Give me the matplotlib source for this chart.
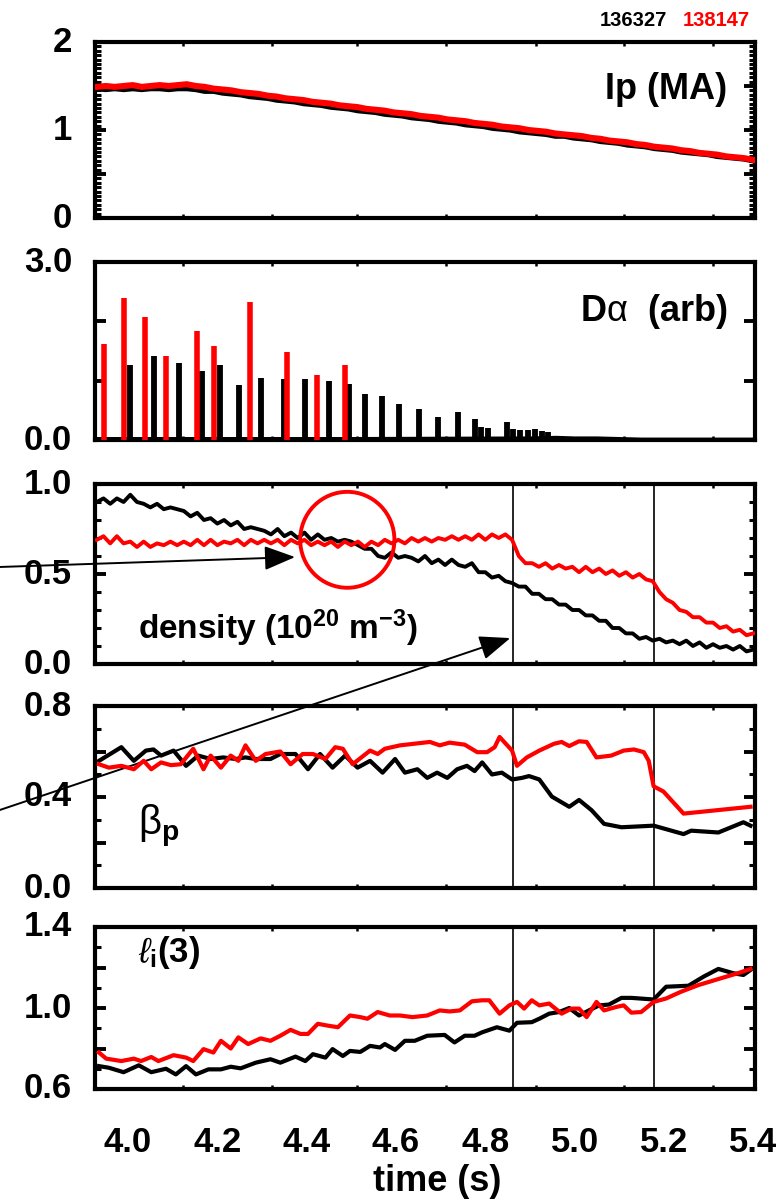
import numpy as np
import matplotlib
matplotlib.use("Agg")
import matplotlib.pyplot as plt
from matplotlib.patches import Ellipse
from matplotlib.ticker import MultipleLocator, FixedLocator, NullFormatter

plt.rcParams['font.family'] = ['Liberation Sans', 'DejaVu Sans']
plt.rcParams['font.weight'] = 'normal'
plt.rcParams['mathtext.fontset'] = 'custom'
plt.rcParams['mathtext.rm'] = 'Liberation Sans'
plt.rcParams['mathtext.it'] = 'Liberation Sans:italic'
plt.rcParams['mathtext.bf'] = 'Liberation Sans:bold'

# ---------------- data ----------------
shots = ["136327", "138147"]
x_ticklabels = ["4.0", "4.2", "4.4", "4.6", "4.8", "5.0", "5.2", "5.4"]
x_tickvals = [4.0, 4.2, 4.4, 4.6, 4.8, 5.0, 5.2, 5.4]
x_minor_ticks = [4.123, 4.323, 4.513, 4.713, 4.913, 5.11, 5.309]
events = [4.861, 5.177]

# Ip (MA)
t_ip = np.linspace(3.93, 5.40, 74)
ip_red = [1.49, 1.50, 1.49, 1.50, 1.51, 1.49, 1.50, 1.51, 1.50, 1.51, 1.52,
          1.50, 1.49, 1.47, 1.46, 1.45, 1.43, 1.42, 1.41, 1.39, 1.38,
          1.36, 1.35, 1.34, 1.32, 1.31, 1.30, 1.28, 1.27, 1.26, 1.24,
          1.23, 1.22, 1.20, 1.19, 1.18, 1.16, 1.15, 1.14, 1.12, 1.11,
          1.10, 1.08, 1.07, 1.06, 1.04, 1.03, 1.02, 1.00, 0.99, 0.98,
          0.96, 0.95, 0.94, 0.93, 0.91, 0.90, 0.88, 0.87, 0.86, 0.84,
          0.83, 0.81, 0.80, 0.79, 0.77, 0.76, 0.74, 0.73, 0.72, 0.70,
          0.69, 0.68, 0.66]
ip_black = [1.47, 1.46, 1.47, 1.46, 1.47, 1.46, 1.47, 1.47, 1.46, 1.47, 1.47,
            1.46, 1.44, 1.44, 1.42, 1.41, 1.40, 1.38, 1.37, 1.36, 1.34,
            1.33, 1.32, 1.30, 1.29, 1.28, 1.26, 1.25, 1.24, 1.22, 1.21,
            1.20, 1.18, 1.17, 1.16, 1.14, 1.13, 1.12, 1.10, 1.09, 1.08,
            1.06, 1.05, 1.04, 1.02, 1.01, 1.00, 0.98, 0.97, 0.96, 0.95,
            0.93, 0.93, 0.91, 0.90, 0.89, 0.87, 0.86, 0.85, 0.83, 0.82,
            0.81, 0.79, 0.78, 0.77, 0.75, 0.74, 0.73, 0.72, 0.70, 0.69,
            0.68, 0.67, 0.65]

# D-alpha spikes (time, height)
da_red_t = [3.946, 3.990, 4.037, 4.085, 4.154, 4.193, 4.272, 4.355, 4.423, 4.486]
da_red_h = [1.62, 2.39, 2.08, 1.42, 1.84, 1.58, 2.33, 1.49, 1.10, 1.27]
da_blk_t = [4.005, 4.059, 4.115, 4.166, 4.207, 4.249, 4.297, 4.349, 4.397, 4.449,
            4.495, 4.531, 4.568, 4.607, 4.651, 4.695, 4.739, 4.778, 4.790, 4.806,
            4.848, 4.863, 4.878, 4.896, 4.911, 4.926, 4.940]
da_blk_h = [1.26, 1.42, 1.30, 1.17, 1.26, 0.92, 1.05, 1.03, 1.03, 1.00,
            0.94, 0.78, 0.75, 0.61, 0.53, 0.38, 0.47, 0.35, 0.22, 0.21,
            0.30, 0.18, 0.17, 0.17, 0.18, 0.15, 0.13]
da_blk_base_t = [3.93, 4.50, 4.90, 4.96, 5.00, 5.05, 5.10, 5.15, 5.40]
da_blk_base_v = [0.02, 0.02, 0.03, 0.04, 0.03, 0.03, 0.02, 0.01, 0.01]
da_red_base_t = [3.93, 4.10, 4.12, 4.25, 4.30, 4.36, 4.42, 4.48, 4.55, 4.60]
da_red_base_v = [0.00, 0.00, -0.04, -0.03, 0.00, -0.06, -0.05, -0.06, -0.07, -0.06]

# density (1e20 m^-3)
t_ne = np.linspace(3.93, 5.40, 99)
ne_black = [0.90, 0.92, 0.89, 0.92, 0.90, 0.94, 0.90, 0.89, 0.87, 0.89,
            0.86, 0.87, 0.86, 0.85, 0.82, 0.84, 0.80, 0.81, 0.78, 0.80,
            0.77, 0.79, 0.75, 0.76, 0.75, 0.74, 0.72, 0.75, 0.71, 0.73,
            0.70, 0.73, 0.69, 0.72, 0.69, 0.70, 0.68, 0.69, 0.68, 0.66,
            0.64, 0.64, 0.60, 0.59, 0.62, 0.59, 0.60, 0.59, 0.57, 0.60,
            0.56, 0.58, 0.55, 0.58, 0.55, 0.54, 0.56, 0.51, 0.51, 0.48,
            0.49, 0.46, 0.45, 0.43, 0.43, 0.39, 0.39, 0.36, 0.36, 0.33,
            0.33, 0.30, 0.30, 0.27, 0.27, 0.24, 0.24, 0.20, 0.20, 0.17,
            0.17, 0.14, 0.15, 0.13, 0.14, 0.12, 0.13, 0.11, 0.13, 0.10,
            0.12, 0.09, 0.11, 0.09, 0.10, 0.08, 0.10, 0.07, 0.08]
ne_red = [0.69, 0.71, 0.67, 0.71, 0.67, 0.68, 0.65, 0.68, 0.65, 0.67,
          0.66, 0.68, 0.66, 0.68, 0.66, 0.69, 0.66, 0.69, 0.66, 0.68,
          0.67, 0.69, 0.66, 0.69, 0.67, 0.69, 0.67, 0.69, 0.66, 0.69,
          0.67, 0.69, 0.66, 0.68, 0.66, 0.68, 0.65, 0.68, 0.66, 0.68,
          0.65, 0.68, 0.66, 0.69, 0.67, 0.69, 0.67, 0.70, 0.68, 0.70,
          0.68, 0.70, 0.69, 0.71, 0.69, 0.71, 0.69, 0.72, 0.69, 0.72,
          0.70, 0.72, 0.69, 0.60, 0.56, 0.56, 0.54, 0.56, 0.53, 0.55,
          0.53, 0.54, 0.51, 0.54, 0.51, 0.53, 0.50, 0.52, 0.49, 0.51,
          0.48, 0.50, 0.47, 0.46, 0.40, 0.36, 0.34, 0.30, 0.29, 0.26,
          0.26, 0.23, 0.23, 0.20, 0.21, 0.18, 0.19, 0.16, 0.17]

# beta_p
t_bp_black = [3.935, 3.985, 4.013, 4.040, 4.057, 4.074, 4.102, 4.130, 4.157, 4.185,
              4.213, 4.241, 4.263, 4.286, 4.319, 4.341, 4.375, 4.403, 4.430, 4.458,
              4.486, 4.514, 4.542, 4.570, 4.598, 4.620, 4.648, 4.670, 4.692, 4.715,
              4.737, 4.759, 4.776, 4.793, 4.815, 4.837, 4.860, 4.882, 4.898, 4.921,
              4.949, 4.988, 5.010, 5.038, 5.066, 5.105, 5.177, 5.244, 5.261, 5.322,
              5.378, 5.394]
bp_black = [0.559, 0.619, 0.559, 0.604, 0.609, 0.582, 0.604, 0.537, 0.582, 0.567,
            0.574, 0.567, 0.574, 0.567, 0.567, 0.589, 0.589, 0.522, 0.589, 0.529,
            0.582, 0.529, 0.559, 0.507, 0.567, 0.507, 0.522, 0.484, 0.507, 0.484,
            0.522, 0.537, 0.514, 0.552, 0.499, 0.507, 0.477, 0.484, 0.492, 0.477,
            0.402, 0.357, 0.387, 0.342, 0.282, 0.267, 0.274, 0.237, 0.252, 0.244,
            0.289, 0.274]
t_bp_red = [3.935, 3.957, 3.985, 4.013, 4.035, 4.052, 4.074, 4.096, 4.118, 4.146,
            4.169, 4.185, 4.208, 4.230, 4.247, 4.263, 4.286, 4.308, 4.341, 4.364,
            4.391, 4.414, 4.442, 4.464, 4.481, 4.503, 4.542, 4.559, 4.575, 4.609,
            4.676, 4.698, 4.720, 4.754, 4.782, 4.804, 4.821, 4.832, 4.860, 4.871,
            4.893, 4.921, 4.954, 4.971, 4.988, 5.010, 5.027, 5.049, 5.082, 5.110,
            5.133, 5.155, 5.166, 5.177, 5.199, 5.244, 5.394]
bp_red = [0.544, 0.529, 0.537, 0.522, 0.559, 0.522, 0.552, 0.540, 0.544, 0.612,
          0.522, 0.582, 0.529, 0.582, 0.559, 0.627, 0.559, 0.589, 0.600, 0.544,
          0.589, 0.589, 0.567, 0.619, 0.612, 0.544, 0.604, 0.589, 0.612, 0.627,
          0.642, 0.627, 0.639, 0.630, 0.597, 0.597, 0.619, 0.664, 0.604, 0.537,
          0.574, 0.604, 0.634, 0.642, 0.624, 0.645, 0.642, 0.574, 0.582, 0.604,
          0.609, 0.597, 0.559, 0.447, 0.424, 0.327, 0.357]

# l_i(3)
t_li_black = [3.935, 3.957, 3.990, 4.024, 4.052, 4.085, 4.107, 4.130, 4.152, 4.180,
              4.208, 4.230, 4.252, 4.286, 4.319, 4.341, 4.375, 4.397, 4.414, 4.442,
              4.458, 4.481, 4.497, 4.520, 4.542, 4.564, 4.575, 4.598, 4.620, 4.642,
              4.670, 4.709, 4.731, 4.754, 4.776, 4.793, 4.826, 4.854, 4.871, 4.904,
              4.921, 4.943, 4.965, 4.988, 5.010, 5.032, 5.055, 5.077, 5.105, 5.127,
              5.177, 5.205, 5.255, 5.289, 5.322, 5.355, 5.378, 5.394]
li_black = [0.713, 0.705, 0.683, 0.717, 0.683, 0.700, 0.672, 0.713, 0.672, 0.697,
            0.697, 0.710, 0.702, 0.730, 0.747, 0.730, 0.760, 0.738, 0.772, 0.755,
            0.797, 0.763, 0.788, 0.783, 0.813, 0.805, 0.822, 0.793, 0.838, 0.838,
            0.863, 0.867, 0.830, 0.863, 0.863, 0.880, 0.905, 0.888, 0.927, 0.930,
            0.947, 0.972, 0.980, 1.000, 0.963, 0.988, 1.013, 1.017, 1.050, 1.050,
            1.042, 1.105, 1.110, 1.155, 1.193, 1.172, 1.163, 1.188]
t_li_red = [3.935, 3.951, 3.985, 4.013, 4.029, 4.052, 4.068, 4.102, 4.130, 4.146,
            4.169, 4.191, 4.208, 4.230, 4.247, 4.269, 4.297, 4.319, 4.341, 4.364,
            4.386, 4.403, 4.425, 4.447, 4.470, 4.497, 4.520, 4.536, 4.559, 4.586,
            4.609, 4.637, 4.670, 4.698, 4.720, 4.743, 4.770, 4.793, 4.809, 4.832,
            4.854, 4.871, 4.887, 4.904, 4.921, 4.943, 4.971, 4.993, 5.010, 5.027,
            5.049, 5.066, 5.093, 5.110, 5.127, 5.149, 5.177, 5.205, 5.238, 5.277,
            5.322, 5.366, 5.394]
li_red = [0.780, 0.750, 0.738, 0.750, 0.738, 0.758, 0.738, 0.767, 0.755, 0.738,
          0.797, 0.780, 0.838, 0.800, 0.855, 0.822, 0.850, 0.838, 0.863, 0.892,
          0.872, 0.872, 0.922, 0.913, 0.905, 0.963, 0.955, 0.947, 0.980, 0.963,
          0.963, 0.955, 0.963, 0.988, 0.983, 0.988, 1.033, 1.038, 1.038, 0.972,
          1.013, 1.030, 0.997, 1.038, 1.013, 1.022, 0.972, 0.997, 0.997, 0.955,
          1.030, 0.988, 1.005, 1.013, 0.977, 0.980, 1.030, 1.047, 1.080, 1.113,
          1.143, 1.172, 1.193]

# ---------------- layout ----------------
W, H = 783, 1201
fig = plt.figure(figsize=(W / 100, H / 100), dpi=100)
left_px, right_px = 95, 755
panels_px = [(42, 218), (262, 440), (484, 664), (706, 888), (927, 1089)]
axes = []
for top, bot in panels_px:
    ax = fig.add_axes([left_px / W, 1 - bot / H, (right_px - left_px) / W, (bot - top) / H])
    ax.set_facecolor('none')
    axes.append(ax)

RED = '#ff0000'
XLIM = (3.926, 5.404)
tick_fs = 25

ylims = [(0, 2), (0, 3), (0, 1), (0, 0.8), (0.6, 1.4)]
ylabels_vals = [[0, 1, 2], [0.0, 3.0], [0.0, 0.5, 1.0], [0.0, 0.4, 0.8], [0.6, 1.0, 1.4]]
ylabels_txt = [["0", "1", "2"], ["0.0", "3.0"], ["0.0", "0.5", "1.0"],
               ["0.0", "0.4", "0.8"], ["0.6", "1.0", "1.4"]]
ymajor = [[0.5, 1.0, 1.5], [1.0, 2.0], [0.5], [0.2, 0.4, 0.6], [0.8, 1.0, 1.2]]
yminor = [0.05, None, 0.1, 0.1, 0.1]

for i, ax in enumerate(axes):
    ax.set_xlim(*XLIM)
    ax.set_ylim(*ylims[i])
    for s in ax.spines.values():
        s.set_linewidth(3.0)
    ax.yaxis.set_major_locator(FixedLocator(ymajor[i]))
    ax.yaxis.set_major_formatter(NullFormatter())
    if yminor[i] is not None:
        ax.yaxis.set_minor_locator(MultipleLocator(yminor[i]))
    else:
        ax.yaxis.set_minor_locator(FixedLocator([]))
    ax.tick_params(axis='y', which='major', direction='in', length=8, width=2.8,
                   left=True, right=True, labelleft=False)
    ax.tick_params(axis='y', which='minor', direction='in', length=4, width=2.2,
                   left=True, right=True)
    for v, txt in zip(ylabels_vals[i], ylabels_txt[i]):
        ax.annotate(txt, xy=(0, v), xycoords=('axes fraction', 'data'),
                    xytext=(-16.5, 0), textcoords='offset points',
                    ha='right', va='center', fontsize=tick_fs, fontweight='bold',
                    annotation_clip=False)
    ax.xaxis.set_major_locator(FixedLocator(x_tickvals))
    ax.xaxis.set_minor_locator(FixedLocator(x_minor_ticks))
    ax.tick_params(axis='x', which='major', length=0, top=False, bottom=True)
    ax.tick_params(axis='x', which='minor', direction='in', length=3, width=1.8,
                   top=True, bottom=True)
    if i < 4:
        ax.xaxis.set_major_formatter(NullFormatter())
    else:
        ax.set_xticklabels(x_ticklabels, fontsize=tick_fs, fontweight='bold')
        ax.tick_params(axis='x', which='major', pad=27)

ax1, ax2, ax3, ax4, ax5 = axes

# Panel 1: Ip
ax1.plot(t_ip, ip_black, color='black', lw=3.8, zorder=3)
ax1.plot(t_ip, ip_red, color=RED, lw=4.4, zorder=4)
ax1.text(0.958, 0.73, "Ip (MA)", transform=ax1.transAxes, ha='right', va='center',
         fontsize=26, fontweight='bold')
fig.text(667 / W, 1 - 21 / H, shots[0], ha='right', va='center', fontsize=14.5,
         fontweight='bold', color='black')
fig.text(750 / W, 1 - 21 / H, shots[1], ha='right', va='center', fontsize=14.5,
         fontweight='bold', color=RED)

# Panel 2: D-alpha
ax2.plot(da_blk_base_t, da_blk_base_v, color='black', lw=2.6, zorder=2)
ax2.plot(da_red_base_t, da_red_base_v, color=RED, lw=2.6, zorder=2)
ax2.vlines(da_blk_t, 0, da_blk_h, color='black', lw=4.2, zorder=3)
ax2.vlines(da_red_t, 0, da_red_h, color=RED, lw=4.0, zorder=4)
ax2.text(0.958, 0.72, r"D$\mathrm{\alpha}$  (arb)", transform=ax2.transAxes, ha='right',
         va='center', fontsize=26, fontweight='bold')

# Panel 3: density
ax3.plot(t_ne, ne_black, color='black', lw=2.8, zorder=3)
ax3.plot(t_ne, ne_red, color=RED, lw=2.8, zorder=4)
ax3.text(0.065, 0.2, r"density (10$^{\mathbf{20}}$ m$^{\mathbf{-3}}$)", transform=ax3.transAxes,
         ha='left', va='center', fontsize=24, fontweight='bold')

# Panel 4: beta_p
ax4.plot(t_bp_black, bp_black, color='black', lw=3.0, zorder=3)
ax4.plot(t_bp_red, bp_red, color=RED, lw=3.0, zorder=4)
ax4.text(0.065, 0.34, r"$\mathrm{\beta}_{\mathbf{p}}$", transform=ax4.transAxes,
         ha='left', va='center', fontsize=29)

# Panel 5: l_i(3)
ax5.plot(t_li_black, li_black, color='black', lw=3.0, zorder=3)
ax5.plot(t_li_red, li_red, color=RED, lw=3.0, zorder=4)
ax5.text(0.065, 0.84, r"$\ell_{\mathbf{i}}$(3)", transform=ax5.transAxes,
         ha='left', va='center', fontsize=25, fontweight='bold')
ax5.set_xlabel("time (s)", fontsize=26, fontweight='bold')
ax5.xaxis.set_label_coords(0.518, -(1164 - 1089) / (1089 - 927))

# event lines
for ax in (ax3, ax4, ax5):
    for ev in events:
        ax.axvline(ev, color='black', lw=1.2, zorder=2)

# annotations: circle and arrows
ax3.add_patch(Ellipse((4.491, 0.69), width=0.211, height=0.533, fill=False,
                      edgecolor=RED, lw=2.8, zorder=5, clip_on=False))
arrow_kw = dict(arrowstyle='-|>,head_length=1.9,head_width=0.75', color='black',
                lw=1.4, shrinkA=0, shrinkB=0)
ax3.annotate("", xy=(4.374, 0.594), xytext=(3.713, 0.539), xycoords='data',
             textcoords='data', arrowprops=arrow_kw, annotation_clip=False, zorder=6)
ax3.annotate("", xy=(4.856, 0.144), xytext=(3.713, -0.811), xycoords='data',
             textcoords='data', arrowprops=arrow_kw, annotation_clip=False, zorder=6)

fig.savefig("out.png", dpi=100)
